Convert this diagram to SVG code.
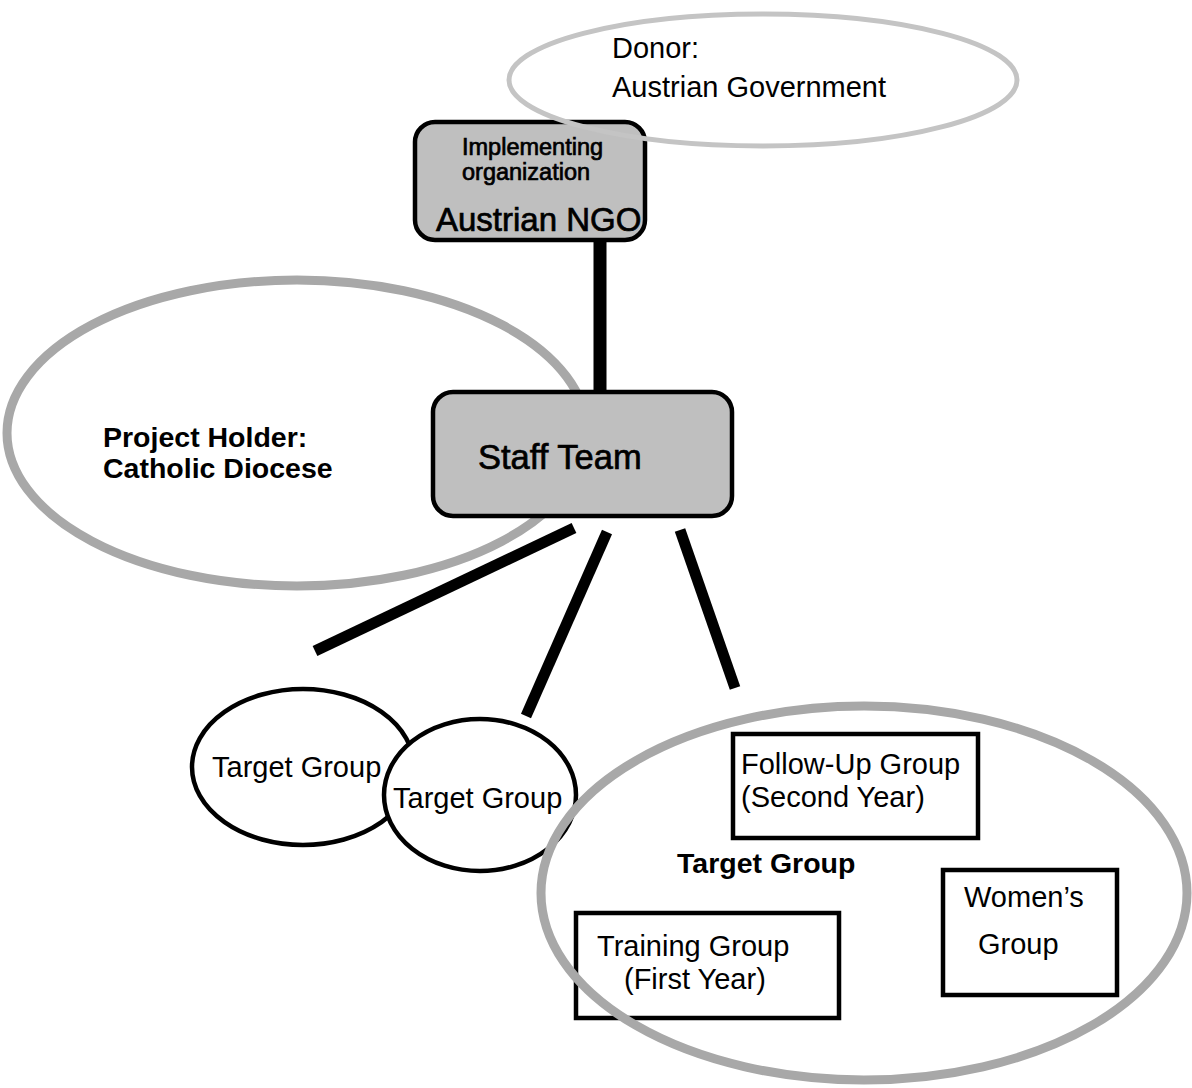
<svg xmlns="http://www.w3.org/2000/svg" width="1192" height="1088" viewBox="0 0 1192 1088">
<style>
text{font-family:"Liberation Sans",Arial,sans-serif;fill:#000}
.t{font-size:29px}
.b{font-size:28.5px;font-weight:bold}
.g{stroke:#000;stroke-width:0.7}
.halo{fill:none;stroke:#a8a8a8;stroke-width:9}
.halo2{fill:none;stroke:#c4c4c4;stroke-width:5}
.rbox{fill:#bfbfbf;stroke:#000;stroke-width:4.5}
.sbox{fill:#fff;stroke:#000;stroke-width:4.5}
.oval{fill:#fff;stroke:#000;stroke-width:4.5}
.conn{stroke:#000;stroke-width:11;stroke-linecap:butt}
</style>
<rect width="1192" height="1088" fill="#fff"/>
<g id="project-holder">
<ellipse class="halo" cx="297" cy="433" rx="290" ry="153"/>
<text class="b" x="103" y="447">Project Holder:</text>
<text class="b" x="103" y="478">Catholic Diocese</text>
</g>
<g id="connectors">
<line class="conn" x1="600" y1="240" x2="600" y2="390" style="stroke-width:13"/>
<line class="conn" x1="574" y1="528" x2="315" y2="651"/>
<line class="conn" x1="607" y1="532" x2="526" y2="716"/>
<line class="conn" x1="680" y1="530" x2="735" y2="688"/>
</g>
<g id="austrian-ngo">
<rect class="rbox" x="415" y="122" width="230" height="118" rx="20"/>
<text class="g" style="font-size:23.5px" x="462" y="155">Implementing</text>
<text class="g" style="font-size:23.5px" x="462" y="180">organization</text>
<text class="g" style="font-size:33px" x="436" y="231">Austrian NGO</text>
</g>
<g id="donor">
<ellipse class="halo2" cx="763" cy="80" rx="254" ry="66"/>
<text class="t" x="612" y="58">Donor:</text>
<text class="t" x="612" y="97">Austrian Government</text>
</g>
<g id="staff-team">
<rect class="rbox" x="433" y="392" width="299" height="124" rx="20"/>
<text class="g" style="font-size:34.5px" x="478" y="469">Staff Team</text>
</g>
<g id="target-group-1">
<ellipse class="oval" cx="303" cy="767" rx="111" ry="78"/>
<text class="t" x="212" y="777">Target Group</text>
</g>
<g id="target-group-2">
<ellipse class="oval" cx="480" cy="795" rx="96" ry="76"/>
<text class="t" x="393" y="808">Target Group</text>
</g>
<g id="follow-up-group">
<rect class="sbox" x="733" y="734" width="245" height="104"/>
<text class="t" x="741" y="774">Follow-Up Group</text>
<text class="t" x="741" y="807">(Second Year)</text>
</g>
<g id="womens-group">
<rect class="sbox" x="943" y="870" width="174" height="125"/>
<text class="t" x="964" y="907">Women’s</text>
<text class="t" x="978" y="954">Group</text>
</g>
<g id="training-group">
<rect class="sbox" x="576" y="913" width="263" height="105"/>
<text class="t" x="597" y="956">Training Group</text>
<text class="t" x="624" y="989">(First Year)</text>
</g>
<g id="target-group-main">
<ellipse class="halo" cx="864" cy="893" rx="323" ry="187"/>
<text class="b" x="677" y="873">Target Group</text>
</g>
</svg>
